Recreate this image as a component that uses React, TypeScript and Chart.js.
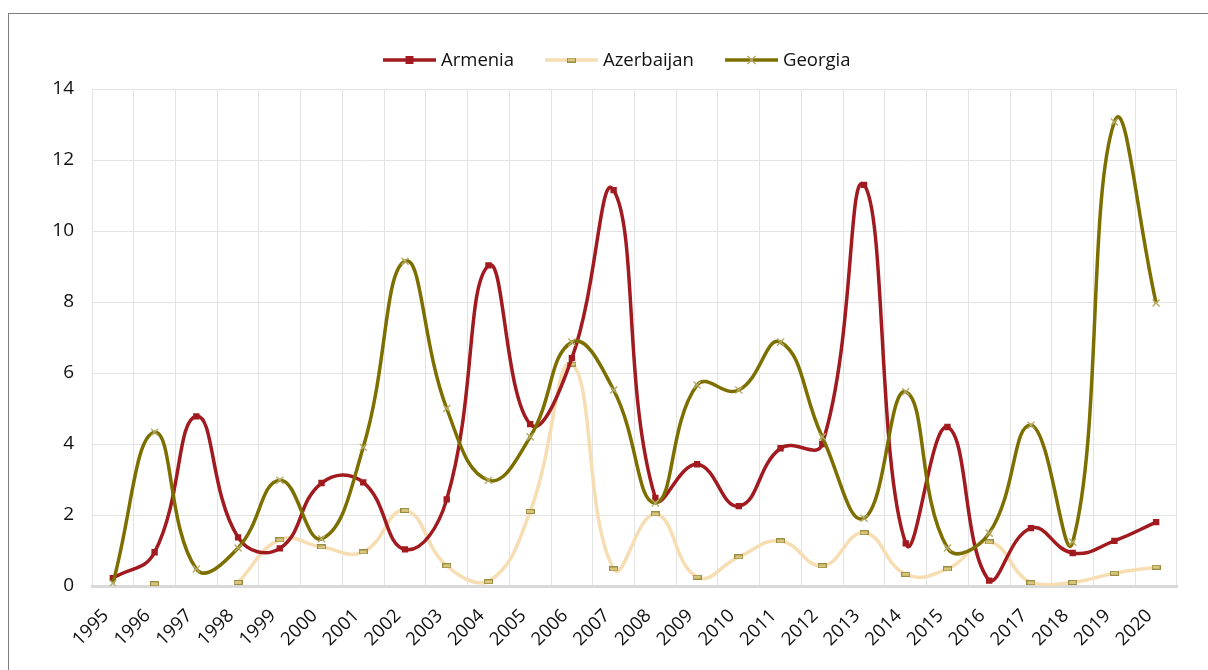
import React, { useEffect, useRef } from 'react';
import { Chart, registerables } from 'chart.js';

Chart.register(...registerables);

const years = ['1995','1996','1997','1998','1999','2000','2001','2002','2003','2004','2005','2006','2007','2008','2009','2010','2011','2012','2013','2014','2015','2016','2017','2018','2019','2020'];
const armenia = [0.22, 0.95, 4.78, 1.37, 1.06, 2.9, 2.92, 1.03, 2.44, 9.03, 4.56, 6.42, 11.15, 2.48, 3.43, 2.25, 3.88, 4.0, 11.3, 1.2, 4.48, 0.15, 1.63, 0.93, 1.27, 1.8];
const azerbaijan = [null, 0.06, null, 0.1, 1.3, 1.1, 0.96, 2.13, 0.57, 0.12, 2.1, 6.25, 0.48, 2.03, 0.25, 0.82, 1.27, 0.57, 1.5, 0.33, 0.48, 1.24, 0.09, 0.1, 0.36, 0.53];
const georgia = [0.08, 4.33, 0.48, 1.07, 2.98, 1.33, 3.91, 9.15, 5.0, 2.98, 4.2, 6.87, 5.52, 2.34, 5.66, 5.52, 6.87, 4.2, 1.91, 5.47, 1.07, 1.49, 4.53, 1.24, 13.07, 7.97];
const seriesNames = ['Armenia', 'Azerbaijan', 'Georgia'];
const yTickValues = [0, 2, 4, 6, 8, 10, 12, 14];

const FONT = "'Open Sans', 'Noto Sans', sans-serif";
const RED = '#A11A1F';
const WHEAT = '#F6DDB2';
const OLIVE = '#7C6F00';

function makeDashMarker(): HTMLCanvasElement {
  const c = document.createElement('canvas');
  c.width = 9;
  c.height = 5;
  const ctx = c.getContext('2d')!;
  ctx.fillStyle = '#D8C57C';
  ctx.fillRect(0.5, 0.5, 8, 4);
  ctx.strokeStyle = '#9A8C43';
  ctx.lineWidth = 1;
  ctx.strokeRect(0.5, 0.5, 8, 4);
  return c;
}

function drawCrossRot(ctx: CanvasRenderingContext2D, x: number, y: number, r: number, color: string) {
  ctx.save();
  ctx.strokeStyle = color;
  ctx.lineWidth = 1.4;
  ctx.beginPath();
  ctx.moveTo(x - r, y - r);
  ctx.lineTo(x + r, y + r);
  ctx.moveTo(x + r, y - r);
  ctx.lineTo(x - r, y + r);
  ctx.stroke();
  ctx.restore();
}

export default function App() {
  const ref = useRef<HTMLCanvasElement | null>(null);

  useEffect(() => {
    if (!ref.current) return;
    const dash = makeDashMarker();

    const legendPlugin = {
      id: 'excelLegend',
      afterDraw(chart: any) {
        const ctx = chart.ctx as CanvasRenderingContext2D;
        const y = 60;
        const items = [
          { name: seriesNames[0], x: 383, color: RED, kind: 'sq' },
          { name: seriesNames[1], x: 545, color: WHEAT, kind: 'dash' },
          { name: seriesNames[2], x: 725, color: OLIVE, kind: 'x' },
        ];
        ctx.save();
        for (const it of items) {
          ctx.strokeStyle = it.color;
          ctx.lineWidth = 3.5;
          ctx.beginPath();
          ctx.moveTo(it.x, y);
          ctx.lineTo(it.x + 53, y);
          ctx.stroke();
          const cx = it.x + 26.5;
          if (it.kind === 'sq') {
            ctx.fillStyle = RED;
            ctx.fillRect(cx - 4, y - 4, 8, 8);
          } else if (it.kind === 'dash') {
            ctx.drawImage(dash, cx - 4.5, y - 2.5);
          } else {
            drawCrossRot(ctx, cx, y, 4, '#B5AB66');
          }
          ctx.fillStyle = '#111111';
          ctx.font = `18.5px ${FONT}`;
          ctx.textBaseline = 'middle';
          ctx.textAlign = 'left';
          ctx.fillText(it.name, it.x + 58, y + 1);
        }
        ctx.restore();
      },
    };

    const chart = new Chart(ref.current, {
      type: 'line',
      data: {
        labels: years,
        datasets: [
          {
            label: seriesNames[0],
            data: armenia,
            borderColor: RED,
            backgroundColor: RED,
            borderWidth: 3.5,
            pointStyle: 'rect',
            pointRadius: 4.5,
            pointBackgroundColor: RED,
            pointBorderColor: RED,
            pointBorderWidth: 0,
            tension: 0.45,
            order: 1,
          },
          {
            label: seriesNames[1],
            data: azerbaijan,
            borderColor: WHEAT,
            backgroundColor: WHEAT,
            borderWidth: 3.5,
            pointStyle: dash as any,
            pointRadius: 4,
            tension: 0.45,
            spanGaps: false,
            order: 2,
          },
          {
            label: seriesNames[2],
            data: georgia,
            borderColor: OLIVE,
            backgroundColor: OLIVE,
            borderWidth: 3.5,
            pointStyle: 'crossRot',
            pointRadius: 5,
            pointBorderColor: '#B5AB66',
            pointBorderWidth: 1.4,
            tension: 0.45,
            order: 0,
          },
        ] as any,
      },
      options: {
        animation: false,
        responsive: false,
        maintainAspectRatio: false,
        layout: { padding: { top: 89, left: 8, right: 31, bottom: 0 } },
        plugins: {
          legend: { display: false },
          tooltip: { enabled: false },
          title: { display: false },
        },
        scales: {
          x: {
            offset: true,
            grid: { color: '#E3E3E3', lineWidth: 1, drawTicks: false, offset: true },
            border: { color: '#D9D9D9', width: 3 },
            ticks: {
              color: '#111111',
              font: { family: FONT, size: 18.5 },
              maxRotation: 45,
              minRotation: 45,
              padding: 19,
              labelOffset: -7,
              autoSkip: false,
            },
            afterFit(scale: any) {
              scale.height = 84;
            },
          },
          y: {
            min: 0,
            max: 14,
            afterBuildTicks(scale: any) {
              scale.ticks = yTickValues.map((v) => ({ value: v }));
            },
            grid: { color: '#E3E3E3', lineWidth: 1, drawTicks: false },
            border: { display: false },
            ticks: {
              color: '#111111',
              font: { family: FONT, size: 19 },
              padding: 18,
            },
            afterFit(scale: any) {
              scale.width = 84;
            },
          },
        },
      },
      plugins: [legendPlugin],
    });
    return () => chart.destroy();
  }, []);

  return (
    <div style={{ position: 'fixed', left: 0, top: 0, width: 1208, height: 670, overflow: 'hidden', background: '#fff' }}>
      <div
        style={{
          position: 'absolute',
          left: 8,
          top: 13,
          width: 1260,
          height: 720,
          border: '1px solid #7F7F7F',
          boxSizing: 'border-box',
        }}
      />
      <canvas ref={ref} width={1208} height={670} style={{ position: 'absolute', left: 0, top: 0, width: 1208, height: 670 }} />
    </div>
  );
}
